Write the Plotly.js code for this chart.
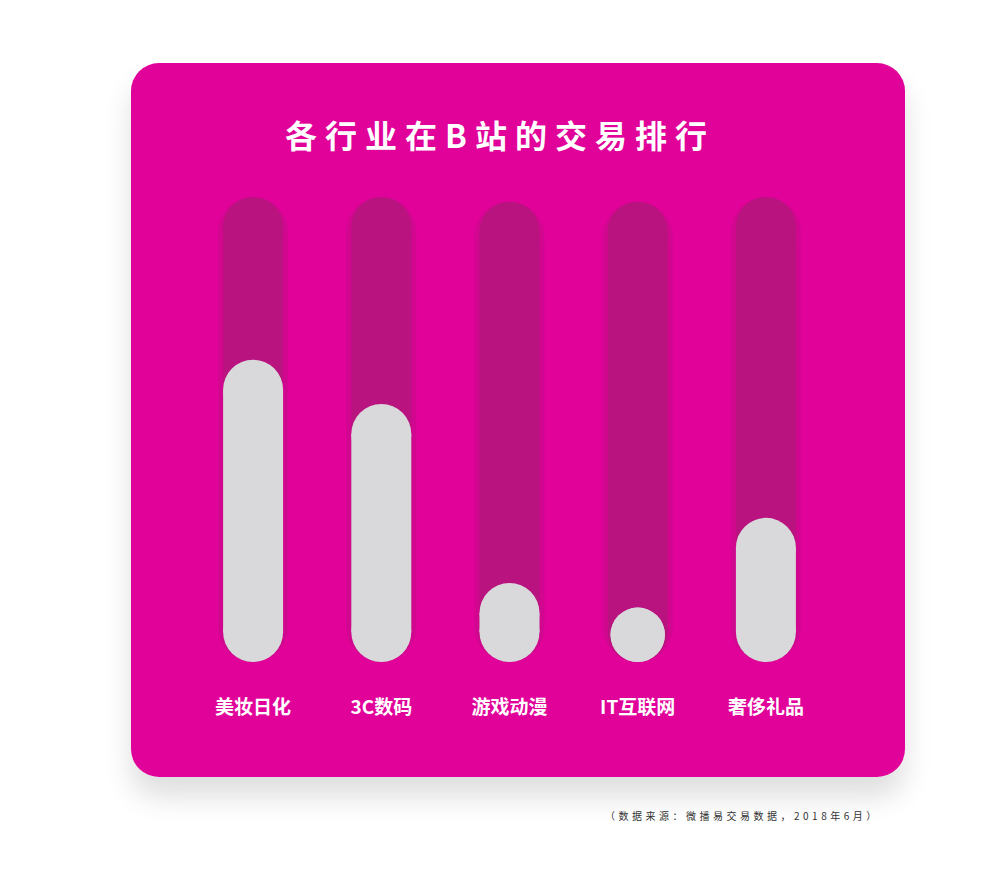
<!DOCTYPE html>
<html>
<head>
<meta charset="utf-8">
<script src="https://cdn.plot.ly/plotly-3.0.1.min.js"></script>
<style>
  body { margin: 0; background: #fff; }
  #card {
    position: absolute; left: 131px; top: 63px; width: 774px; height: 714px;
    background: #E1029A; border-radius: 28px;
    box-shadow: 0 20px 28px rgba(0,0,0,0.13);
  }
  #chart { position: absolute; left: 0; top: 0; width: 1000px; height: 869px; }
  .gtitle { letter-spacing: 8px; }
  .annotation-text { letter-spacing: 3.5px; }
</style>
</head>
<body>
<div id="card"></div>
<div id="chart"></div>
<script>
const categories = ['美妆日化', '3C数码', '游戏动漫', 'IT互联网', '奢侈礼品'];
const values = [65, 55.5, 17, 11.7, 31];
const tracks = [100, 100, 99, 99, 100];

const W = 1000, H = 869;
const margin = { l: 189, r: 170, t: 197, b: 207 };
const plotH = H - margin.t - margin.b;
const pxPerUnit = plotH / 100;
const BAR_W = 60;

// a pill = thick line between two circle caps
function pill(i, val, color, width, opacity) {
    const hPx = val * pxPerUnit;
    const d = Math.min(width, hPx);
    const r = d / 2 / pxPerUnit;
    return {
        x: [i, i],
        y: [r, val - r],
        mode: 'lines+markers',
        line: { color, width: d },
        marker: { color, size: d, line: { width: 0 } },
        opacity,
        hoverinfo: 'skip',
        showlegend: false,
        type: 'scatter'
    };
}

const data = [];
tracks.forEach((t, i) => {
    data.push(pill(i, t, '#B8137F', BAR_W + 10, 0.35));
    data.push(pill(i, t, '#B8137F', BAR_W, 1));
});
values.forEach((v, i) => {
    data.push(pill(i, v, '#D9D8DA', BAR_W, 1));
});

const layout = {
    width: W,
    height: H,
    margin,
    paper_bgcolor: 'rgba(0,0,0,0)',
    plot_bgcolor: 'rgba(0,0,0,0)',
    font: { family: '"Noto Sans CJK SC", sans-serif' },
    title: {
        text: '<b>各行业在B站的交易排行</b>',
        font: { size: 32, color: '#ffffff', family: '"Noto Sans CJK SC", sans-serif' },
        x: 0.5, xref: 'container', xanchor: 'center',
        y: 1 - 137 / H, yref: 'container', yanchor: 'middle'
    },
    xaxis: {
        range: [-0.5, 4.5],
        tickvals: [0, 1, 2, 3, 4],
        ticktext: categories.map(c => '<b>' + c + '</b>'),
        tickfont: { size: 19, color: '#ffffff' },
        ticklabelstandoff: 32,
        showgrid: false, zeroline: false, showline: false, ticks: ''
    },
    yaxis: {
        range: [0, 100],
        visible: false
    },
    annotations: [{
        text: '（数据来源：微播易交易数据，2018年6月）',
        xref: 'paper', yref: 'paper',
        x: (882 - margin.l) / (W - margin.l - margin.r),
        y: -(815 - (H - margin.b)) / plotH,
        xanchor: 'right', yanchor: 'middle',
        showarrow: false,
        font: { size: 10, color: '#333333' }
    }]
};

Plotly.newPlot('chart', data, layout, { displayModeBar: false, staticPlot: true });
</script>
</body>
</html>
